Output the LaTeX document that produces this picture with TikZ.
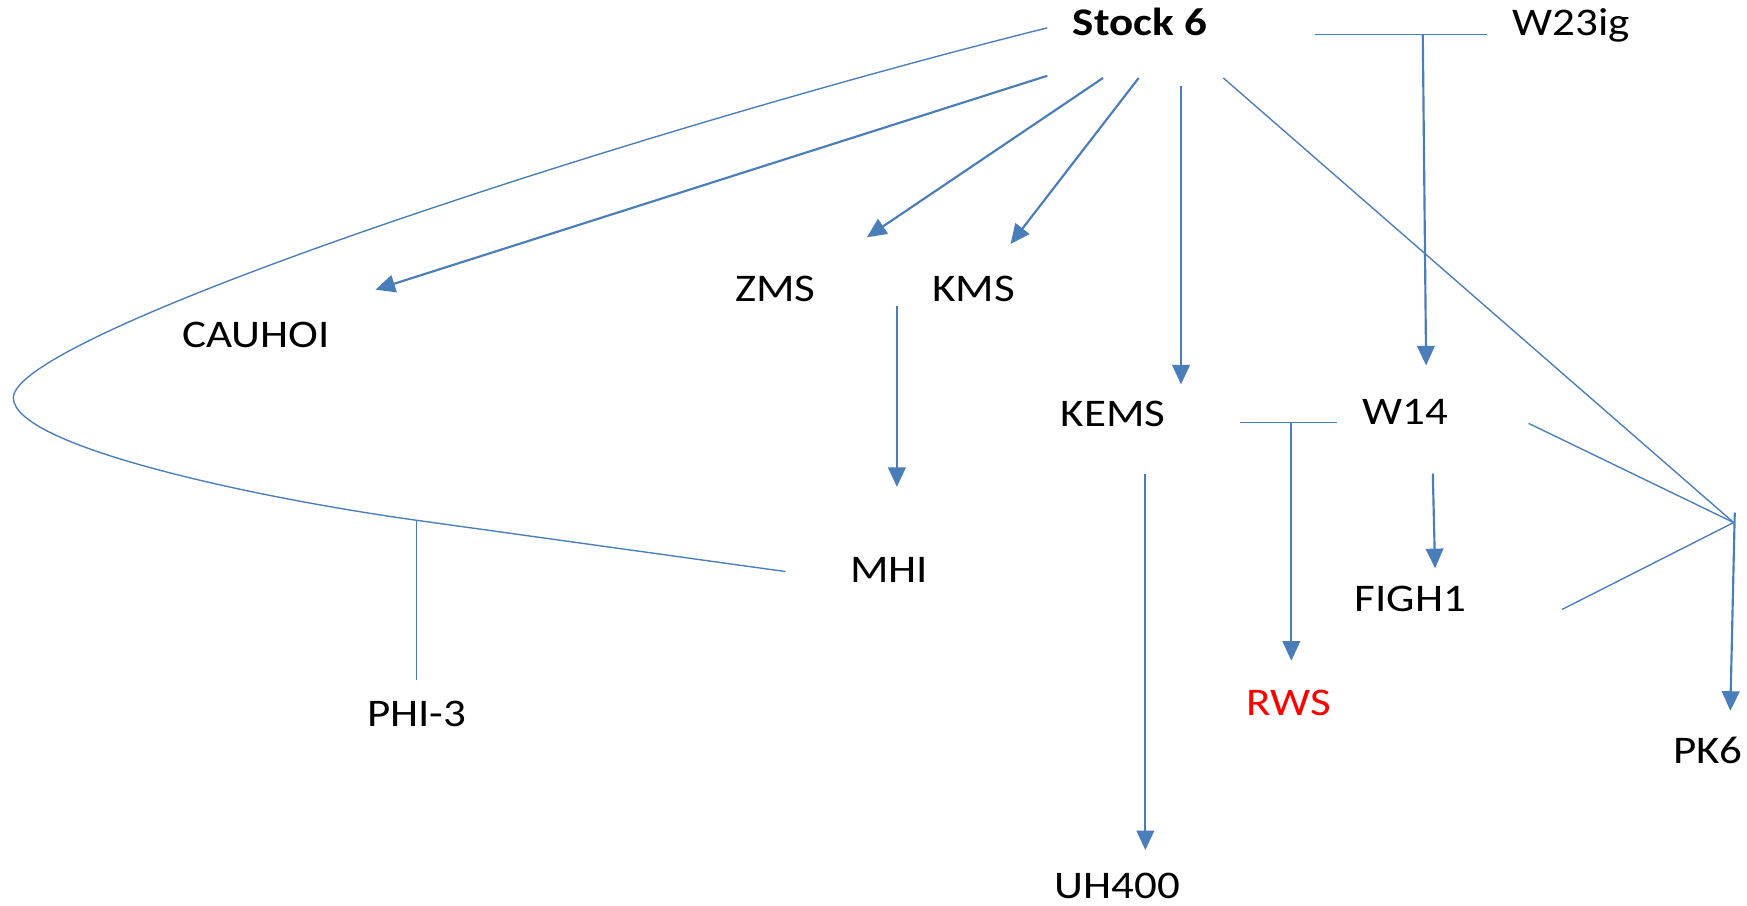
\documentclass[tikz,border=0pt]{standalone}
\usepackage{fontspec}
\setmainfont{Carlito}[FakeStretch=1.15]
\usetikzlibrary{arrows.meta,positioning}
\definecolor{linkblue}{RGB}{74,126,187}

\begin{document}
\begin{tikzpicture}[
  x=0.02cm, y=-0.02cm,
  strain/.style={font=\fontsize{20}{24}\selectfont, inner sep=0pt, anchor=base},
  parent/.style={strain, font=\fontsize{20}{24}\selectfont\bfseries},
  link/.style={draw=linkblue, line width=0.7pt},
  feed/.style={link, line width=1.1pt, -{Triangle[length=10pt, width=9pt]}},
]
\useasboundingbox (0,0) rectangle (1568,813);

% Strain names
\node[parent] (stock) at (1023,32) {Stock 6};
\node[strain] (w23) at (1410,32) {W23ig};
\node[strain] (cauhoi) at (230,312) {CAUHOI};
\node[strain] (zms) at (696,271) {ZMS};
\node[strain] (kms) at (874,271) {KMS};
\node[strain] (kems) at (999,383) {KEMS};
\node[strain] (w14) at (1261,381) {W14};
\node[strain] (mhi) at (798,523) {MHI};
\node[strain] (figh) at (1266,549) {FIGH1};
\node[strain] (phi) at (374,652) {PHI-3};
\node[strain, text=red] (rws) at (1157,642) {RWS};
\node[strain] (pk) at (1533,685) {PK6};
\node[strain] (uh) at (1003,806) {UH400};

% Line ends
\coordinate (s-mhi) at (940,25);
\coordinate (s-cau) at (940,68);
\coordinate (s-zms) at (990,70);
\coordinate (s-kms) at (1022,70);
\coordinate (s-kems) at (1060,77);
\coordinate (s-pk) at (1098,70);
\coordinate (t-cau) at (337,260);
\coordinate (t-zms) at (778,213);
\coordinate (t-kms) at (907,219);
\coordinate (t-kems) at (1060,345);
\coordinate (m-left) at (12,357);
\coordinate (m-end) at (705,513);
\coordinate (m-phi) at (374,467);
\coordinate (b-phi) at (374,610);
\coordinate (k-mhi) at (805,275);
\coordinate (t-mhi) at (805,437);
\coordinate (k-uh) at (1028,425);
\coordinate (t-uh) at (1028,763);
\coordinate (w-left) at (1180,31);
\coordinate (w-right) at (1335,31);
\coordinate (w-mid) at (1277,31);
\coordinate (t-w14) at (1280,328);
\coordinate (x-left) at (1113,379);
\coordinate (x-right) at (1200,379);
\coordinate (x-mid) at (1159,379);
\coordinate (t-rws) at (1159,593);
\coordinate (f-top) at (1286,425);
\coordinate (t-figh) at (1288,510);
\coordinate (p-w14) at (1372,380);
\coordinate (p-figh) at (1402,547);
\coordinate (p-join) at (1556,469);
\coordinate (p-tick) at (1557,460);
\coordinate (t-pk) at (1553,638);

% Stock 6 crosses
\draw[link] (s-mhi) .. controls (560,120) and (12,300) .. (m-left)
  .. controls (12,400) and (224,446) .. (m-phi) -- (m-end);
\draw[link] (m-phi) -- (b-phi);
\draw[feed] (s-cau) -- (t-cau);
\draw[feed] (s-zms) -- (t-zms);
\draw[feed] (s-kms) -- (t-kms);
\draw[feed] (s-kems) -- (t-kems);
\draw[link] (s-pk) -- (p-join);

% W23ig x Stock 6
\draw[link] (w-left) -- (w-right);
\draw[feed] (w-mid) -- (t-w14);

% Descendants
\draw[feed] (k-mhi) -- (t-mhi);
\draw[feed] (k-uh) -- (t-uh);
\draw[link] (x-left) -- (x-right);
\draw[feed] (x-mid) -- (t-rws);
\draw[feed] (f-top) -- (t-figh);

% PK6
\draw[link] (p-w14) -- (p-join);
\draw[link] (p-figh) -- (p-join);
\draw[feed] (p-tick) -- (t-pk);

\end{tikzpicture}
\end{document}
